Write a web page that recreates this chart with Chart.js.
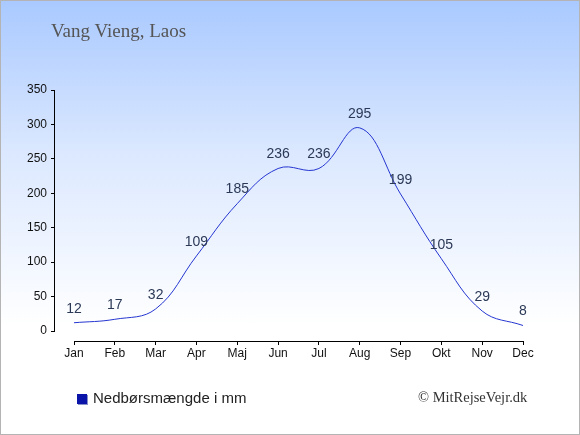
<!DOCTYPE html>
<html>
<head>
<meta charset="utf-8">
<script src="https://cdn.jsdelivr.net/npm/chart.js@4/dist/chart.umd.min.js"></script>
<style>
    body { margin: 0; }
    #wrap {
        position: relative;
        width: 580px;
        height: 435px;
        background: linear-gradient(#a9c9ff 0%, #dbe8ff 35%, #ffffff 75%);
        font-family: "Liberation Sans", Arial, sans-serif;
    }
    #frame {
        position: absolute; left: 0; top: 0; width: 580px; height: 435px;
        box-sizing: border-box; border: 1px solid #b4b4b4; pointer-events: none;
    }
    #title {
        position: absolute; left: 51px; top: 20px;
        font: 19px "Liberation Serif", serif; color: #555;
    }
    #legend {
        position: absolute; left: 77px; top: 389px;
        font-size: 15px; color: #222; line-height: 18px;
    }
    #legend span.box {
        display: inline-block; width: 10px; height: 10px; background: #0a14a8;
        box-shadow: 1px 1px 0 #8890c8; vertical-align: -1px; margin-right: 6px;
    }
    #copy {
        position: absolute; left: 418px; top: 389px;
        font: 14.5px "Liberation Serif", serif; color: #333;
    }
</style>
</head>
<body>
<div id="wrap">
    <canvas id="chart" width="580" height="435"></canvas>
    <div id="title">Vang Vieng, Laos</div>
    <div id="legend"><span class="box"></span><span id="legendText"></span></div>
    <div id="copy">© MitRejseVejr.dk</div>
    <div id="frame"></div>
</div>
<script>
    const months = ['Jan', 'Feb', 'Mar', 'Apr', 'Maj', 'Jun', 'Jul', 'Aug', 'Sep', 'Okt', 'Nov', 'Dec'];
    const rain = [12, 17, 32, 109, 185, 236, 236, 295, 199, 105, 29, 8];
    const yTicks = [0, 50, 100, 150, 200, 250, 300, 350];
    const seriesName = 'Nedbørsmængde i mm';

    document.getElementById('legendText').textContent = seriesName;

    const points = rain.map((v, i) => ({ x: i, y: v }));

    // axis lines: y from 0 to top, x from first to last month
    const axisLines = {
        id: 'axisLines',
        afterDraw(chart) {
            const { ctx, chartArea, scales } = chart;
            ctx.save();
            ctx.strokeStyle = '#000';
            ctx.lineWidth = 1;
            ctx.beginPath();
            const yl = Math.round(chartArea.left) - 0.5;
            ctx.moveTo(yl, scales.y.getPixelForValue(yTicks[yTicks.length - 1]));
            ctx.lineTo(yl, scales.y.getPixelForValue(0));
            const xb = Math.round(chartArea.bottom) + 0.5;
            ctx.moveTo(scales.x.getPixelForValue(0), xb);
            ctx.lineTo(scales.x.getPixelForValue(months.length - 1), xb);
            ctx.stroke();
            ctx.restore();
        }
    };

    const valueLabels = {
        id: 'valueLabels',
        afterDatasetsDraw(chart) {
            const ctx = chart.ctx;
            const meta = chart.getDatasetMeta(0);
            ctx.save();
            ctx.font = '14px "Liberation Sans", Arial, sans-serif';
            ctx.fillStyle = '#2b3957';
            ctx.textAlign = 'center';
            ctx.textBaseline = 'middle';
            meta.data.forEach((pt, i) => {
                ctx.fillText(String(rain[i]), pt.x, pt.y - 14);
            });
            ctx.restore();
        }
    };

    new Chart(document.getElementById('chart'), {
        type: 'line',
        data: {
            datasets: [{
                label: seriesName,
                data: points,
                borderColor: '#2536d0',
                borderWidth: 1,
                tension: 0.4,
                pointRadius: 0,
                fill: false
            }]
        },
        options: {
            responsive: false,
            animation: false,
            layout: { padding: { left: 0, top: 90, right: 57, bottom: 0 } },
            plugins: {
                legend: { display: false },
                title: { display: false },
                tooltip: { enabled: false }
            },
            scales: {
                x: {
                    type: 'linear',
                    min: -0.4655,
                    max: months.length - 1,
                    afterBuildTicks: (scale) => {
                        scale.ticks = months.map((m, i) => ({ value: i }));
                    },
                    afterFit: (scale) => { scale.height = 94; },
                    ticks: {
                        callback: (v) => months[v],
                        color: '#111',
                        font: { size: 12, family: '"Liberation Sans", Arial, sans-serif' },
                        padding: 1,
                        maxRotation: 0
                    },
                    grid: { drawOnChartArea: false, drawTicks: true, tickLength: 4, color: '#000' },
                    border: { display: false }
                },
                y: {
                    min: -14.52,
                    max: 350,
                    afterBuildTicks: (scale) => {
                        scale.ticks = yTicks.map((v) => ({ value: v }));
                    },
                    afterFit: (scale) => { scale.width = 55; },
                    ticks: {
                        color: '#111',
                        font: { size: 12, family: '"Liberation Sans", Arial, sans-serif' },
                        padding: 4
                    },
                    grid: { drawOnChartArea: false, drawTicks: true, tickLength: 4, color: '#000' },
                    border: { display: false }
                }
            }
        },
        plugins: [axisLines, valueLabels]
    });
</script>
</body>
</html>
